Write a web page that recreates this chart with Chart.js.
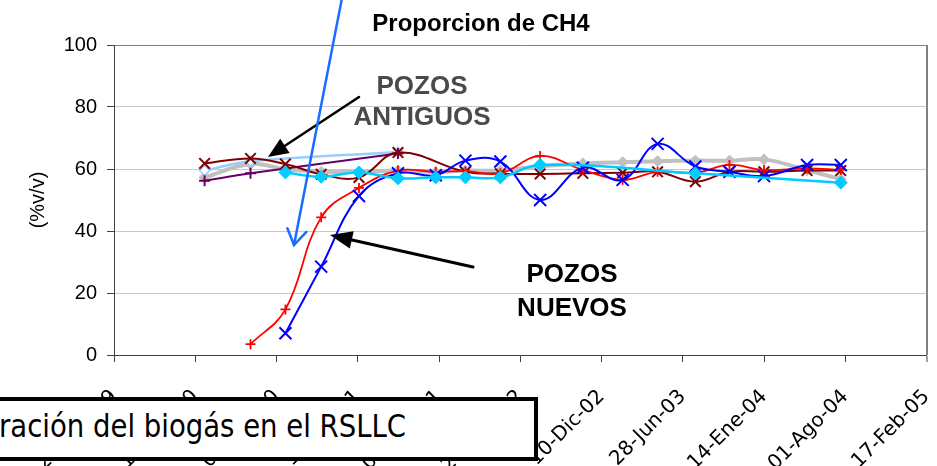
<!DOCTYPE html>
<html>
<head>
<meta charset="utf-8">
<script src="https://cdn.jsdelivr.net/npm/chart.js@4.4.1/dist/chart.umd.min.js"></script>
<style>
  html, body { margin: 0; padding: 0; background: #fff; overflow: hidden; }
  #marco { position: relative; width: 937px; height: 466px; overflow: hidden; }
  #grafico { display: block; }
  #nota {
    position: absolute; left: -12px; top: 397px; width: 550px; height: 64px;
    box-sizing: border-box; border: 4px solid #000; background: #fff;
    font: 32px "DejaVu Sans", sans-serif; line-height: 50px;
    padding-left: 7px; white-space: nowrap; color: #000;
  }
  #nota span { display: inline-block; transform: scaleX(0.86); transform-origin: left center; }
</style>
</head>
<body>
<div id="marco">
  <canvas id="grafico" width="937" height="466"></canvas>
  <div id="nota"><span>ración del biogás en el RSLLC</span></div>
</div>
<script>
// fechas de muestreo
var fechas = ['2000-04-07', '2000-07-29', '2000-10-23', '2001-01-19', '2001-04-22', '2001-07-27',
              '2001-10-28', '2002-01-09', '2002-04-05', '2002-07-12', '2002-10-25', '2003-01-31',
              '2003-04-27', '2003-07-29', '2003-10-21', '2004-01-14', '2004-04-29', '2004-07-21'];

// % CH4 por pozo (null = sin medicion)
var pozoGranate = [61.8, 63.4, 61.6, 58.3, 57.3, 65.3, null, 59.1, 58.5, 58.4, 58.6, 58.8, 59.1, 55.9, 59.1, 59.1, 59.5, 59.5];
var pozoMorado  = [56.2, 58.6, null, null, null, 65.0, null, null, null, null, null, null, null, null, null, null, null, null];
var pozoCeleste = [59.5, 62.5, null, null, null, 65.5, null, null, null, null, null, null, null, null, null, null, null, null];
var pozoGris    = [57.3, 61.6, 59.9, 59.1, 59.1, 59.5, 59.0, 59.5, 59.5, 60.9, 61.8, 62.2, 62.5, 62.7, 62.7, 63.1, 59.6, 56.7];
var pozoCian    = [null, null, 58.9, 57.5, 58.9, 57.0, 57.3, 57.3, 57.3, 61.3, null, null, null, 58.6, null, null, null, 55.6];
var pozoRojo    = [null, 3.5, 14.7, 44.4, 53.9, 59.5, 59.1, 59.3, 58.6, 64.2, 59.7, 56.5, 59.1, 58.8, 61.3, 59.7, 60.2, 59.7];
var pozoAzul    = [null, null, 7.0, 28.5, 51.3, 58.6, 58.0, 62.7, 62.4, 50.0, 60.4, 56.5, 68.1, 60.8, 59.1, 57.7, 61.3, 61.3];

// eje x: dias desde el inicio, marcas cada 200 dias
var inicioEje = '1999-08-28';
var pasoDias = 200;
var finDias = 2000;
var meses = ['Ene', 'Feb', 'Mar', 'Abr', 'May', 'Jun', 'Jul', 'Ago', 'Sep', 'Oct', 'Nov', 'Dic'];
var marcasY = [0, 20, 40, 60, 80, 100];

function dias(f) {
    return (Date.parse(f) - Date.parse(inicioEje)) / 86400000;
}

function etiquetaFecha(v) {
    var d = new Date(Date.parse(inicioEje) + v * 86400000);
    var dd = ('0' + d.getUTCDate()).slice(-2);
    var yy = ('0' + (d.getUTCFullYear() % 100)).slice(-2);
    return dd + '-' + meses[d.getUTCMonth()] + '-' + yy;
}

function puntos(vals) {
    return fechas.map(function (f, i) { return { x: dias(f), y: vals[i] }; });
}

function serie(nombre, vals, color, ancho, forma, radio, relleno, borde) {
    return {
        label: nombre,
        data: puntos(vals),
        borderColor: color,
        borderWidth: ancho,
        pointStyle: forma,
        pointRadius: radio,
        pointBackgroundColor: relleno || color,
        pointBorderColor: color,
        pointBorderWidth: borde || 2,
        tension: 0.4,
        spanGaps: true,
        fill: false
    };
}

function flecha(ctx, x1, y1, x2, y2, color, ancho, largo, abertura, abierta) {
    var ang = Math.atan2(y2 - y1, x2 - x1);
    ctx.strokeStyle = color;
    ctx.fillStyle = color;
    ctx.lineWidth = ancho;
    ctx.lineCap = 'round';
    ctx.beginPath();
    ctx.moveTo(x1, y1);
    ctx.lineTo(abierta ? x2 : x2 - Math.cos(ang) * largo * 0.8, abierta ? y2 : y2 - Math.sin(ang) * largo * 0.8);
    ctx.stroke();
    var ax = x2 - Math.cos(ang - abertura) * largo, ay = y2 - Math.sin(ang - abertura) * largo;
    var bx = x2 - Math.cos(ang + abertura) * largo, by = y2 - Math.sin(ang + abertura) * largo;
    ctx.beginPath();
    ctx.moveTo(ax, ay);
    ctx.lineTo(x2, y2);
    ctx.lineTo(bx, by);
    if (abierta) {
        ctx.stroke();
    } else {
        ctx.closePath();
        ctx.fill();
    }
}

var notas = {
    id: 'notas',
    afterDatasetsDraw: function (chart) {
        var ctx = chart.ctx;
        ctx.save();
        ctx.textAlign = 'center';
        ctx.textBaseline = 'alphabetic';

        ctx.fillStyle = '#000';
        ctx.font = 'bold 24px "Liberation Sans", Arial, sans-serif';
        ctx.fillText('Proporcion de CH4', 481, 31);

        ctx.font = 'bold 26px "Liberation Sans", Arial, sans-serif';
        ctx.fillStyle = '#4a4a4a';
        ctx.fillText('POZOS', 422, 94);
        ctx.fillText('ANTIGUOS', 422, 125);

        ctx.fillStyle = '#000';
        ctx.fillText('POZOS', 572, 282);
        ctx.fillText('NUEVOS', 572, 316);

        flecha(ctx, 359, 97, 268, 157, '#000', 2.5, 22, 0.4, false);
        flecha(ctx, 473, 267, 330, 235, '#000', 3, 24, 0.38, false);
        flecha(ctx, 342, -2, 294, 245, '#1a6dff', 2.5, 18, 0.57, true);
        ctx.restore();
    }
};

new Chart(document.getElementById('grafico'), {
    type: 'line',
    data: {
        datasets: [
            serie('Pozo 7', pozoCian, '#00ccff', 2.5, 'rectRot', 6.5, '#00ccff', 1),
            serie('Pozo 6', pozoAzul, '#0000ff', 2, 'crossRot', 8.5),
            serie('Pozo 5', pozoRojo, '#ff0000', 1.8, 'cross', 5, '#ff0000', 1.8),
            serie('Pozo 1', pozoGranate, '#800000', 2, 'crossRot', 7.5),
            serie('Pozo 2', pozoMorado, '#660066', 2, 'cross', 5.5),
            serie('Pozo 3', pozoCeleste, '#99ccff', 2.5, 'rectRot', 5, '#ffffff', 1.5),
            serie('Pozo 4', pozoGris, '#c0c0c0', 4, 'rectRot', 5.5, '#c0c0c0', 1)
        ]
    },
    options: {
        responsive: false,
        animation: false,
        layout: { padding: { top: 45, right: 7, left: 0, bottom: 0 } },
        plugins: {
            legend: { display: false },
            tooltip: { enabled: false },
            title: { display: false }
        },
        scales: {
            x: {
                type: 'linear',
                min: 0,
                max: finDias,
                ticks: {
                    stepSize: pasoDias,
                    autoSkip: false,
                    maxRotation: 45,
                    minRotation: 45,
                    padding: 23,
                    color: '#000',
                    font: { family: '"DejaVu Sans"', size: 20 },
                    callback: function (v) { return etiquetaFecha(v); }
                },
                grid: {
                    color: function (c) { return c.tick && c.tick.value === finDias ? '#808080' : 'rgba(0,0,0,0)'; },
                    lineWidth: function (c) { return c.tick && c.tick.value === finDias ? 2 : 1; },
                    tickLength: 7,
                    tickColor: '#404040',
                    tickWidth: 1
                },
                border: { color: '#404040', width: 1 },
                afterFit: function (s) { s.height = 111; s.paddingLeft = 0; s.paddingRight = 0; }
            },
            y: {
                min: 0,
                max: 100,
                afterBuildTicks: function (s) { s.ticks = marcasY.map(function (v) { return { value: v }; }); },
                ticks: {
                    padding: 10,
                    color: '#000',
                    font: { family: '"Liberation Sans"', size: 20 }
                },
                grid: {
                    color: function (c) { return c.tick && c.tick.value === 100 ? '#808080' : '#c8c8c8'; },
                    tickLength: 7,
                    tickColor: '#404040'
                },
                border: { color: '#404040', width: 1 },
                title: {
                    display: true,
                    text: '(%v/v)',
                    color: '#000',
                    font: { family: '"Liberation Sans"', size: 20 },
                    padding: { top: 26, bottom: 0 }
                },
                afterFit: function (s) { s.width = 114; }
            }
        }
    },
    plugins: [notas]
});
</script>
</body>
</html>
